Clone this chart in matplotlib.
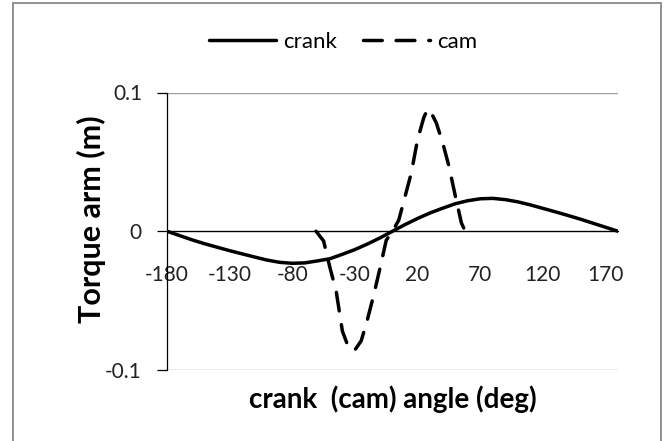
import numpy as np
import matplotlib.pyplot as plt
from matplotlib.patches import Rectangle

plt.rcParams['font.family'] = ['Lato', 'DejaVu Sans']

# crank torque arm, read every 10 deg
angle = np.arange(-180, 181, 10)
crank = [0.0, -0.0031, -0.0062, -0.0090, -0.0115, -0.0140, -0.0163, -0.0186,
         -0.0208, -0.0224, -0.0231, -0.0228, -0.0214, -0.0198, -0.0166, -0.0132,
         -0.0092, -0.0048, 0.0, 0.0048, 0.0092, 0.0132, 0.0166, 0.0198, 0.0220,
         0.0234, 0.0237, 0.0228, 0.0212, 0.0190, 0.0165, 0.0140, 0.0114, 0.0087,
         0.0058, 0.0029, 0.0]

# cam torque arm
cam_angle = [-61, -55, -50, -45, -40, -35, -32, -30, -25, -20, -15, -10, -5, 0,
             5, 10, 15, 20, 25, 28, 30, 35, 40, 45, 50, 55, 58]
cam = [0.0, -0.007, -0.026, -0.043, -0.072, -0.084, -0.086, -0.0855, -0.079,
       -0.0636, -0.046, -0.0267, -0.0065, 0.0, 0.008, 0.025, 0.042, 0.066,
       0.082, 0.088, 0.087, 0.078, 0.064, 0.047, 0.026, 0.006, 0.0]

xticks = np.arange(-180, 171, 50)
yticks = [-0.1, 0, 0.1]
ylabels = ['-0.1', '0', '0.1']

W, H = 667, 441
fig = plt.figure(figsize=(W / 100, H / 100), dpi=100)
fig.patches.append(Rectangle((13 / W, -0.05), (661 - 13) / W, 1.05 - 3 / H,
                             transform=fig.transFigure, fill=False,
                             edgecolor='#888888', linewidth=1.3))

ax = fig.add_axes([167 / W, 1 - 370 / H, 451 / W, (370 - 92.5) / H])

ax.plot(angle, crank, color='black', lw=2.5, solid_capstyle='round', label='crank')
ax.plot(cam_angle, cam, color='black', lw=2.5, dashes=(5.4, 4.0),
        dash_capstyle='round', label='cam')

ax.set_xlim(-180, 180)
ax.set_ylim(-0.1, 0.1)
ax.set_xticks(xticks)
ax.set_xticklabels([str(v) for v in xticks])
ax.set_yticks(yticks)
ax.set_yticklabels(ylabels)

for s in ['top', 'right']:
    ax.spines[s].set_visible(False)
ax.spines['bottom'].set_position(('data', 0))
ax.spines['bottom'].set_linewidth(0.9)
ax.spines['left'].set_linewidth(0.9)
ax.yaxis.grid(True, color='#a0a0a0', lw=1.0)
ax.set_axisbelow(True)

ax.tick_params(axis='x', length=0, pad=24, labelsize=15, colors='#222222')
ax.tick_params(axis='y', length=7, width=0.9, direction='out', pad=11,
               labelsize=15, labelcolor='#222222')

ax.set_xlabel('crank  (cam) angle (deg)', fontsize=20, fontweight='bold',
              labelpad=0)
ax.xaxis.set_label_coords(0.5, -0.055)
ax.set_ylabel('Torque arm (m)', fontsize=22, fontweight='bold')
ax.yaxis.set_label_coords(-0.135, 0.544)

ax.legend(loc='center', bbox_to_anchor=(343 / W, 1 - 42 / H),
          bbox_transform=fig.transFigure, ncol=2, frameon=False, fontsize=16,
          handlelength=3.0, handletextpad=0.32, columnspacing=1.17)

fig.savefig('out.png', dpi=100)
